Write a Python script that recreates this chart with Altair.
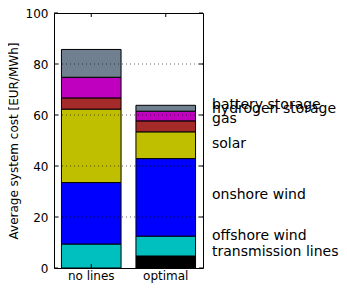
import altair as alt
import pandas as pd

scenarios = ["no lines", "optimal"]
techs = ["transmission lines", "offshore wind", "onshore wind", "solar", "gas",
         "hydrogen storage", "battery storage"]
colors = ["#000000", "#00bfbf", "#0000ff", "#bfbf00", "#a52a2a", "#bf00bf", "#708090"]

transmission = [0.0, 4.7]
offshore = [9.4, 7.8]
onshore = [24.1, 30.4]
solar = [28.8, 10.5]
gas = [4.4, 4.3]
hydrogen = [8.1, 3.8]
battery = [10.9, 2.3]

# where each name sits on the right of the plot, in EUR/MWh
label_y = [4.9, 11.0, 26.9, 47.1, 56.9, 60.7, 62.4]

y_ticks = [0, 20, 40, 60, 80, 100]
grid_vals = [20, 40, 60, 80]

series = [transmission, offshore, onshore, solar, gas, hydrogen, battery]
rows = []
for i, (t, vals) in enumerate(zip(techs, series)):
    for s, v in zip(scenarios, vals):
        rows.append({"scenario": s, "tech": t, "cost": v, "idx": i})
df = pd.DataFrame(rows)

W, H = 149, 255
FONT = "DejaVu Sans"
YTITLE = "Average system cost [EUR/MWh]"

xscale = alt.Scale(domain=scenarios, paddingInner=0.2, paddingOuter=0.1)
yscale = alt.Scale(domain=[0, 100], nice=False, zero=True)

bars = alt.Chart(df).mark_bar(stroke="black", strokeWidth=1).encode(
    x=alt.X("scenario:N", scale=xscale, sort=scenarios, title=None,
            axis=alt.Axis(title=None, labelAngle=0, ticks=False, domain=False, grid=False,
                          labelFontSize=12, labelFont=FONT, labelColor="black",
                          labelPadding=2)),
    y=alt.Y("cost:Q", stack="zero", scale=yscale, title=YTITLE,
            axis=alt.Axis(title=YTITLE, values=y_ticks,
                          ticks=False, domain=False, grid=False,
                          labelFontSize=12, labelFont=FONT, labelColor="black",
                          labelPadding=6, titleFontSize=12, titleFont=FONT,
                          titleFontWeight="normal", titleColor="black", titlePadding=5)),
    color=alt.Color("tech:N", scale=alt.Scale(domain=techs, range=colors), legend=None),
    order=alt.Order("idx:Q", sort="ascending"),
)

grid_df = pd.DataFrame({"v": grid_vals})
grid = alt.Chart(grid_df).mark_rule(color="black", strokeWidth=1, strokeDash=[1, 3],
                                     opacity=0.6).encode(
    y=alt.Y("v:Q", scale=yscale, title=YTITLE),
    x=alt.value(0), x2=alt.value(W),
)

tick_df = pd.DataFrame({"v": y_ticks})
lticks = alt.Chart(tick_df).mark_rule(color="black", strokeWidth=1).encode(
    y=alt.Y("v:Q", scale=yscale, title=YTITLE), x=alt.value(0), x2=alt.value(4))
rticks = alt.Chart(tick_df).mark_rule(color="black", strokeWidth=1).encode(
    y=alt.Y("v:Q", scale=yscale, title=YTITLE), x=alt.value(W - 4), x2=alt.value(W))

sc_df = pd.DataFrame({"scenario": scenarios})
bticks = alt.Chart(sc_df).mark_rule(color="black", strokeWidth=1).encode(
    x=alt.X("scenario:N", scale=xscale, sort=scenarios, bandPosition=0.5, title=None),
    y=alt.value(H), y2=alt.value(H - 4))
tticks = alt.Chart(sc_df).mark_rule(color="black", strokeWidth=1).encode(
    x=alt.X("scenario:N", scale=xscale, sort=scenarios, bandPosition=0.5, title=None),
    y=alt.value(0), y2=alt.value(4))

lab_df = pd.DataFrame({"tech": techs, "ly": label_y})
labels = alt.Chart(lab_df).mark_text(align="left", baseline="alphabetic", fontSize=14,
                                     font=FONT, color="black").encode(
    y=alt.Y("ly:Q", scale=yscale, title=YTITLE),
    x=alt.value(W + 9),
    text="tech:N",
)

chart = alt.layer(bars, grid, lticks, rticks, bticks, tticks, labels).properties(
    width=W, height=H,
    autosize=alt.AutoSizeParams(type="none"),
    padding={"left": 46, "top": 5, "right": 136, "bottom": 15},
    background="white",
).configure_view(stroke="black", strokeWidth=1)

chart.save("out.html", embed_options={"renderer": "svg", "actions": False})
